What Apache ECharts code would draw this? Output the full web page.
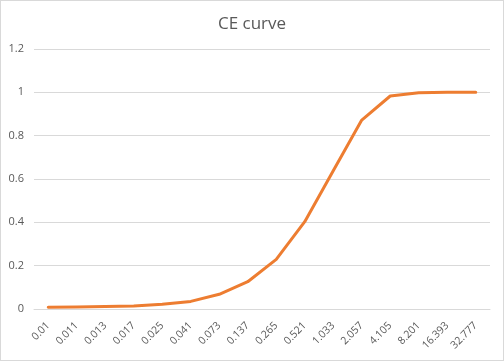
<!DOCTYPE html>
<html><head><meta charset="utf-8">
<script src="https://cdn.jsdelivr.net/npm/echarts@6/dist/echarts.min.js"></script>
<style>html,body{margin:0;padding:0;background:#fff}#c{width:504px;height:361px;box-sizing:border-box;border:1px solid #D9D9D9}</style>
</head><body><div id="c"></div>
<script>
const categories = ['0.01','0.011','0.013','0.017','0.025','0.041','0.073','0.137','0.265','0.521','1.033','2.057','4.105','8.201','16.393','32.777'];
const ceValues = [0.008, 0.009, 0.011, 0.014, 0.022, 0.035, 0.068, 0.126, 0.229, 0.403, 0.638, 0.872, 0.983, 0.998, 1.0, 1.0];
const yTicks = {min: 0, max: 1.2, interval: 0.2};
const chart = echarts.init(document.getElementById('c'), null, {renderer: 'canvas'});
chart.setOption({
  animation: false,
  title: {text: 'CE curve', left: 'center', top: 10,
    textStyle: {fontFamily: 'Open Sans', fontSize: 17, fontWeight: 'normal', color: '#595959'}},
  grid: {left: 33, right: 13, top: 48, bottom: 51, containLabel: false},
  xAxis: {type: 'category', data: categories, boundaryGap: true,
    axisLine: {lineStyle: {color: '#D9D9D9'}}, axisTick: {show: false},
    axisLabel: {rotate: 45, color: '#595959', fontFamily: 'Open Sans', fontSize: 10.5, margin: 15, interval: 0}},
  yAxis: {type: 'value', min: yTicks.min, max: yTicks.max, interval: yTicks.interval,
    axisLine: {show: false}, axisTick: {show: false},
    splitLine: {lineStyle: {color: '#D9D9D9'}},
    axisLabel: {color: '#595959', fontFamily: 'Open Sans', fontSize: 11, margin: 10,
      formatter: v => String(Math.round(v * 10) / 10)}},
  series: [{type: 'line', data: ceValues, symbol: 'none',
    lineStyle: {color: '#ED7D31', width: 3, cap: 'round', join: 'round'}}]
});
</script></body></html>
